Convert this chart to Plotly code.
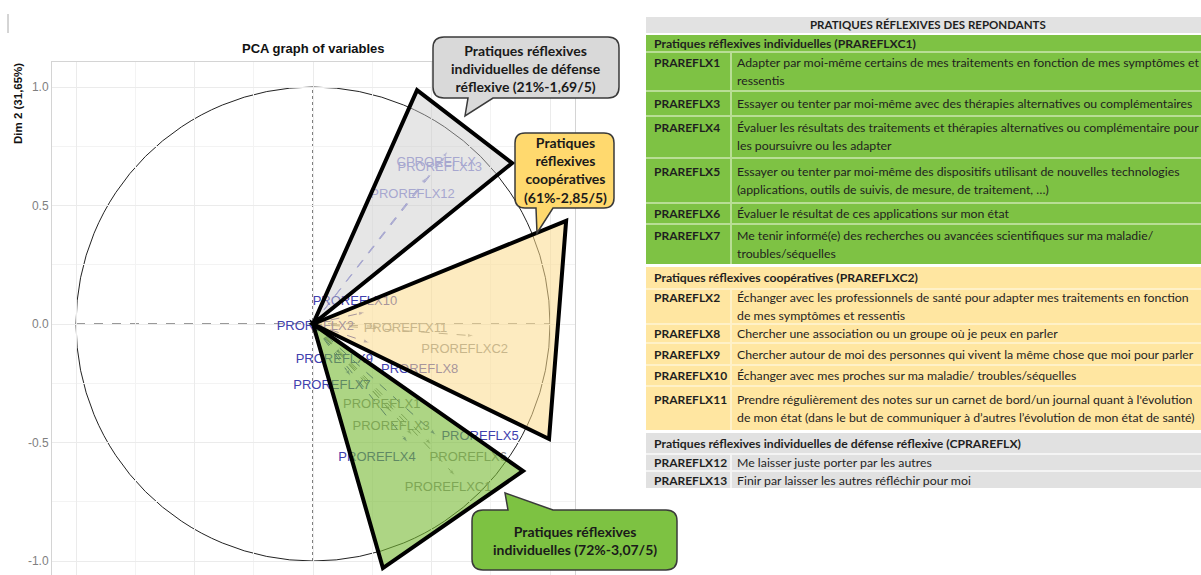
import plotly.graph_objects as go

W, H = 1201, 575

# PCA variables: arrow tips (Dim 1, Dim 2) and where the labels sit
var_names = ["PROREFLX1", "PROREFLX2", "PROREFLX3", "PROREFLX4", "PROREFLX5",
             "PROREFLX6", "PROREFLX7", "PROREFLX8", "PROREFLX9", "PROREFLX10",
             "PROREFLX11", "PROREFLX12", "PROREFLX13", "PROREFLXC1", "PROREFLXC2",
             "CPROREFLX"]
var_dim1 = [0.33, 0.06, 0.42, 0.40, 0.52, 0.50, 0.16, 0.24, 0.12, 0.22,
            0.28, 0.48, 0.56, 0.60, 0.68, 0.57]
var_dim2 = [-0.37, -0.02, -0.47, -0.50, -0.47, -0.51, -0.22, -0.08, -0.13, 0.05,
            -0.01, 0.62, 0.71, -0.64, -0.05, 0.73]
label_dim1 = [0.29, 0.01, 0.33, 0.27, 0.705, 0.655, 0.08, 0.45, 0.09, 0.177,
              0.39, 0.42, 0.535, 0.57, 0.64, 0.52]
label_dim2 = [-0.34, -0.01, -0.435, -0.565, -0.477, -0.565, -0.26, -0.195, -0.15, 0.093,
              -0.02, 0.545, 0.66, -0.69, -0.11, 0.68]

y_ticks = [-1.0, -0.5, 0.0, 0.5, 1.0]
y_tick_text = ["-1.0", "-0.5", "0.0", "0.5", "1.0"]

# highlighted sectors (outer vertices, the third one is the origin)
sector_grey = [(0.439, 0.987), (0.840, 0.679)]
sector_yellow = [(1.068, 0.435), (0.996, -0.485)]
sector_green = [(0.886, -0.620), (0.295, -1.030)]

callout_grey = "Pratiques réflexives<br>individuelles de défense<br>réflexive (21%-1,69/5)"
callout_yellow = "Pratiques<br>réflexives<br>coopératives<br>(61%-2,85/5)"
callout_green = "Pratiques réflexives<br>individuelles (72%-3,07/5)"

# table on the right
table_title = "PRATIQUES RÉFLEXIVES DES REPONDANTS"
group_titles = ["Pratiques réflexives individuelles (PRAREFLXC1)",
                "Pratiques réflexives coopératives (PRAREFLXC2)",
                "Pratiques réflexives individuelles de défense réflexive (CPRAREFLX)"]
item_codes = [
    ["PRAREFLX1", "PRAREFLX3", "PRAREFLX4", "PRAREFLX5", "PRAREFLX6", "PRAREFLX7"],
    ["PRAREFLX2", "PRAREFLX8", "PRAREFLX9", "PRAREFLX10", "PRAREFLX11"],
    ["PRAREFLX12", "PRAREFLX13"],
]
item_texts = [
    [["Adapter par moi-même certains de mes traitements en fonction de mes symptômes et", "ressentis"],
     ["Essayer ou tenter par moi-même avec des thérapies alternatives ou complémentaires"],
     ["Évaluer les résultats des traitements et thérapies alternatives ou complémentaire pour",
      "les poursuivre ou les adapter"],
     ["Essayer ou tenter par moi-même des dispositifs utilisant de nouvelles technologies",
      "(applications, outils de suivis, de mesure, de traitement, …)"],
     ["Évaluer le résultat de ces applications sur mon état"],
     ["Me tenir informé(e) des recherches ou avancées scientifiques sur ma maladie/",
      "troubles/séquelles"]],
    [["Échanger avec les professionnels de santé pour adapter mes traitements en fonction",
      "de mes symptômes et ressentis"],
     ["Chercher une association ou un groupe où je peux en parler"],
     ["Chercher autour de moi des personnes qui vivent la même chose que moi pour parler"],
     ["Échanger avec mes proches sur ma maladie/ troubles/séquelles"],
     ["Prendre régulièrement des notes sur un carnet de bord/un journal quant à l'évolution",
      "de mon état (dans le but de communiquer à d’autres l’évolution de mon état de santé)"]],
    [["Me laisser juste porter par les autres"],
     ["Finir par laisser les autres réfléchir pour moi"]],
]

# ---- styling / layout helpers ----
BLUE, GREY, LAV = "#4040AE", "#8A8A8A", "#8C8CD6"
label_colors = {"PROREFLX1": GREY, "PROREFLX2": BLUE, "PROREFLX3": GREY, "PROREFLX4": BLUE,
                "PROREFLX5": BLUE, "PROREFLX6": GREY, "PROREFLX7": BLUE, "PROREFLX8": BLUE,
                "PROREFLX9": BLUE, "PROREFLX10": BLUE, "PROREFLX11": GREY, "PROREFLX12": LAV,
                "PROREFLX13": LAV, "PROREFLXC1": GREY, "PROREFLXC2": GREY, "CPROREFLX": LAV}

group_fill = ["#7EC244", "#FFE6A1", "#E1E1E1"]
group_tint = ["#B9DE95", "#FFF1C8", "#F4F4F4"]
group_head_h = [16, 21, 20]
item_heights = [[37, 23, 40, 43, 19, 39], [33, 17, 20, 19, 43], [15, 16]]

ORIGIN_X, ORIGIN_Y, SCALE = 313, 324, 237
PANEL_L, PANEL_R, PANEL_T = 52, 575, 62


def X(p):
    return p / W


def Y(p):
    return 1 - p / H


fig = go.Figure()

# arrows
for name, dx, dy in zip(var_names, var_dim1, var_dim2):
    c = label_colors[name]
    fig.add_trace(go.Scatter(
        x=[0, dx], y=[0, dy], mode="lines+markers",
        line=dict(color=c, width=1, dash="dash"),
        marker=dict(symbol="arrow", size=[0, 7], color=c, angleref="previous"),
        hoverinfo="skip", showlegend=False))

fig.add_trace(go.Scatter(
    x=label_dim1, y=label_dim2, mode="text", text=var_names,
    textfont=dict(family="Liberation Sans", size=13,
                  color=[label_colors[n] for n in var_names]),
    hoverinfo="skip", showlegend=False))

shapes = []
# unit circle and reference lines
shapes.append(dict(type="circle", xref="x", yref="y", x0=-1, y0=-1, x1=1, y1=1,
                   line=dict(color="#222222", width=1), layer="below"))
shapes.append(dict(type="line", xref="x", yref="y", x0=-1, y0=0, x1=1, y1=0,
                   line=dict(color="#333333", width=1, dash="dash"), layer="below"))
shapes.append(dict(type="line", xref="x", yref="y", x0=0, y0=-1, x1=0, y1=1,
                   line=dict(color="#555555", width=1.5, dash="dot"), layer="below"))

# sectors
for verts, fill in [(sector_grey, "rgba(200,200,200,0.45)"),
                    (sector_yellow, "rgba(252,218,140,0.55)"),
                    (sector_green, "rgba(118,185,50,0.6)")]:
    (ax, ay), (bx, by) = verts
    shapes.append(dict(type="path", xref="x", yref="y",
                       path=f"M 0,0 L {ax},{ay} L {bx},{by} Z",
                       fillcolor=fill, line=dict(color="black", width=4), layer="above"))


def bubble(x0, y0, x1, y1, r, side, ta, tb, tip):
    def P(x, y):
        return f"{X(x):.5f},{Y(y):.5f}"
    s = f"M {P(x0 + r, y0)}"
    if side == "top":
        s += f" L {P(ta, y0)} L {P(*tip)} L {P(tb, y0)}"
    s += f" L {P(x1 - r, y0)} Q {P(x1, y0)} {P(x1, y0 + r)}"
    s += f" L {P(x1, y1 - r)} Q {P(x1, y1)} {P(x1 - r, y1)}"
    if side == "bottom":
        s += f" L {P(tb, y1)} L {P(*tip)} L {P(ta, y1)}"
    s += f" L {P(x0 + r, y1)} Q {P(x0, y1)} {P(x0, y1 - r)}"
    s += f" L {P(x0, y0 + r)} Q {P(x0, y0)} {P(x0 + r, y0)} Z"
    return s


callouts = [
    (bubble(433, 37, 619, 98, 11, "bottom", 468, 493, (465, 116)), "#D9D9D9", callout_grey, 526, 68),
    (bubble(515, 133, 614, 208, 10, "bottom", 536, 553, (537, 233)), "#FFD96E", callout_yellow, 565, 170),
    (bubble(472, 510, 677, 570, 11, "top", 508, 553, (505, 493)), "#7DC242", callout_green, 575, 540),
]
annotations = []
for path, fill, text, cx, cy in callouts:
    shapes.append(dict(type="path", xref="paper", yref="paper", path=path,
                       fillcolor=fill, line=dict(color="#3A3A3A", width=1.5), layer="above"))
    annotations.append(dict(xref="paper", yref="paper", x=X(cx), y=Y(cy), text=f"<b>{text}</b>",
                            showarrow=False, xanchor="center", yanchor="middle",
                            font=dict(family="Lato", size=14, color="#1A1A1A")))

# table
T_L, T_SPLIT, T_R = 646, 731, 1215
LINE = 18


def rect(x0, y0, x1, y1, fill):
    shapes.append(dict(type="rect", xref="paper", yref="paper", x0=X(x0), x1=X(x1),
                       y0=Y(y1), y1=Y(y0), fillcolor=fill, line=dict(width=0), layer="above"))


def text_at(x, y, s, size, bold=False, anchor="left"):
    annotations.append(dict(xref="paper", yref="paper", x=X(x), y=Y(y),
                            text=f"<b>{s}</b>" if bold else s, showarrow=False,
                            xanchor=anchor, yanchor="middle",
                            font=dict(family="Lato", size=size, color="#1F1F1F")))


top = 17
rect(T_L, top, T_R, top + 16, "#E2E2E2")
text_at(928, top + 8, table_title, 11.5, bold=True, anchor="center")
top += 18
for g in range(len(group_titles)):
    block_h = group_head_h[g] + sum(item_heights[g]) + 2 * len(item_heights[g])
    rect(T_L, top, T_R, top + block_h, group_tint[g])
    rect(T_L, top, T_R, top + group_head_h[g], group_fill[g])
    text_at(652, top + group_head_h[g] / 2, group_titles[g], 12.2, bold=True)
    top += group_head_h[g] + 2
    for code, lines, h in zip(item_codes[g], item_texts[g], item_heights[g]):
        rect(T_L, top, T_SPLIT - 1, top + h, group_fill[g])
        rect(T_SPLIT + 1, top, T_R, top + h, group_fill[g])
        mid = top + h / 2
        text_at(652, mid - (len(lines) - 1) * LINE / 2, code, 12, bold=True)
        for i, ln in enumerate(lines):
            text_at(735, mid + (i - (len(lines) - 1) / 2) * LINE, ln, 12.3)
        top += h + 2
    top += 1

# titles
annotations.append(dict(xref="paper", yref="paper", x=X(313), y=Y(49), text="<b>PCA graph of variables</b>",
                        showarrow=False, xanchor="center", yanchor="middle",
                        font=dict(family="Liberation Sans", size=13, color="#111111")))
annotations.append(dict(xref="paper", yref="paper", x=X(18), y=Y(104), text="<b>Dim 2 (31,65%)</b>",
                        showarrow=False, textangle=-90, xanchor="center", yanchor="middle",
                        font=dict(family="Liberation Sans", size=11.5, color="#111111")))
shapes.append(dict(type="line", xref="paper", yref="paper", x0=X(8), x1=X(8), y0=Y(14), y1=Y(33),
                   line=dict(color="#AAAAAA", width=1)))

fig.update_layout(
    width=W, height=H, margin=dict(l=0, r=0, t=0, b=0),
    paper_bgcolor="white", plot_bgcolor="white",
    shapes=shapes, annotations=annotations, showlegend=False,
    xaxis=dict(domain=[X(PANEL_L), X(PANEL_R)],
               range=[(PANEL_L - ORIGIN_X) / SCALE, (PANEL_R - ORIGIN_X) / SCALE],
               tickvals=[-1, -0.5, 0, 0.5, 1], showticklabels=False, ticks="",
               showgrid=True, gridcolor="#EBEBEB", gridwidth=1.3, zeroline=False,
               minor=dict(tickvals=[-0.75, -0.25, 0.25, 0.75], showgrid=True,
                          gridcolor="#F3F3F3", gridwidth=1),
               showline=True, mirror=True, linecolor="#D4D4D4", linewidth=1),
    yaxis=dict(domain=[0, Y(PANEL_T)],
               range=[(ORIGIN_Y - H) / SCALE, (ORIGIN_Y - PANEL_T) / SCALE],
               tickvals=y_ticks, ticktext=y_tick_text, ticks="",
               tickfont=dict(family="Liberation Sans", size=12, color="#7F7F7F"),
               showgrid=True, gridcolor="#EBEBEB", gridwidth=1.3, zeroline=False,
               minor=dict(tickvals=[-0.75, -0.25, 0.25, 0.75], showgrid=True,
                          gridcolor="#F3F3F3", gridwidth=1),
               showline=True, mirror=True, linecolor="#D4D4D4", linewidth=1),
)

# the page body has a default 8px margin; drop it so the figure sits at the window corner
fig.write_html("out.html", config={"displayModeBar": False},
               post_script="document.body.style.margin = '0px';")
